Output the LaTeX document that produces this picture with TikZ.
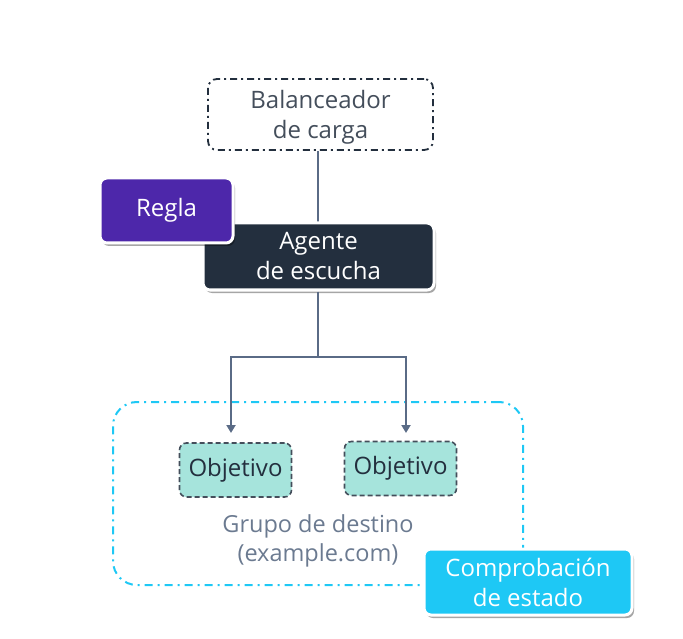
\documentclass[tikz,border=0pt]{standalone}
\usepackage{fontspec}
\setmainfont{Open Sans}
\usetikzlibrary{shadows,arrows.meta}
\definecolor{ink}{HTML}{232F3E}
\definecolor{conn}{HTML}{5A6B86}
\definecolor{purp}{HTML}{4D27AA}
\definecolor{cyanc}{HTML}{1EC8F5}
\definecolor{teal}{HTML}{A6E4DC}
\definecolor{grp}{HTML}{6B7A90}
\tikzset{
  x=1pt,y=-1pt,
  solidbox/.style={draw=white,line width=3pt,rounded corners=7pt,text=white,
    drop shadow={shadow xshift=2pt,shadow yshift=-3pt,opacity=0.35,fill=black},
    align=center,font=\fontsize{24}{30}\selectfont,inner sep=0pt},
  dashdotbox/.style={draw=ink,line width=1.8pt,dash pattern=on 7pt off 4pt on 2pt off 4pt,rounded corners=9pt,
    align=center,font=\fontsize{24}{30}\selectfont,text=ink!85,inner sep=0pt},
  objbox/.style={draw=ink!85,fill=teal,line width=1.6pt,dash pattern=on 5pt off 3pt,rounded corners=7pt,
    font=\fontsize{24}{28}\selectfont,text=ink,inner sep=0pt,minimum width=112pt,minimum height=54pt},
  conline/.style={draw=conn,line width=2pt},
  arr/.style={conline,-{Triangle[width=9pt,length=8pt]}}
}
\begin{document}
\begin{tikzpicture}
\useasboundingbox (0,0) rectangle (683,639);
% group
\node[draw=cyanc,line width=2pt,dash pattern=on 8pt off 5pt on 2pt off 5pt,rounded corners=24pt,
  minimum width=410pt,minimum height=183pt,inner sep=0pt] (grp) at (318,493.5) {};
% balancer
\node[dashdotbox,minimum width=225pt,minimum height=71pt] (lb) at (320.5,114.5) {};
\node[align=center,font=\fontsize{24}{30}\selectfont,text=ink!85,inner sep=0pt] (lbt) at (320.5,117) {Balanceador\\de carga};
% listener
\coordinate (split) at (318,357);
\coordinate (l) at (231,357);
\coordinate (r) at (406,357);
\draw[conline] (lb.south -| split) -- (318,225);
\node[solidbox,fill=ink,minimum width=231pt,minimum height=67pt] (ag) at (318.5,256.5) {Agente\\de escucha};
\node[solidbox,fill=purp,minimum width=133pt,minimum height=65pt] (rg) at (166.5,210.5) {Regla};
\node[objbox] (o1) at (235.5,470) {Objetivo};
\node[objbox] (o2) at (400.5,468.5) {Objetivo};
\draw[conline] (ag.south -| split) -- (split);
\draw[arr] (split) -- (l) -- (l |- 0,433);
\draw[arr] (split) -- (r) -- (r |- 0,433);
\node[align=center,font=\fontsize{23.5}{29}\selectfont,text=grp] (gt) at (318,540.5) {Grupo de destino\\(example.com)};
\node[solidbox,fill=cyanc,minimum width=208pt,minimum height=66pt] (hc) at (528,582) {Comprobación\\de estado};
\end{tikzpicture}
\end{document}
